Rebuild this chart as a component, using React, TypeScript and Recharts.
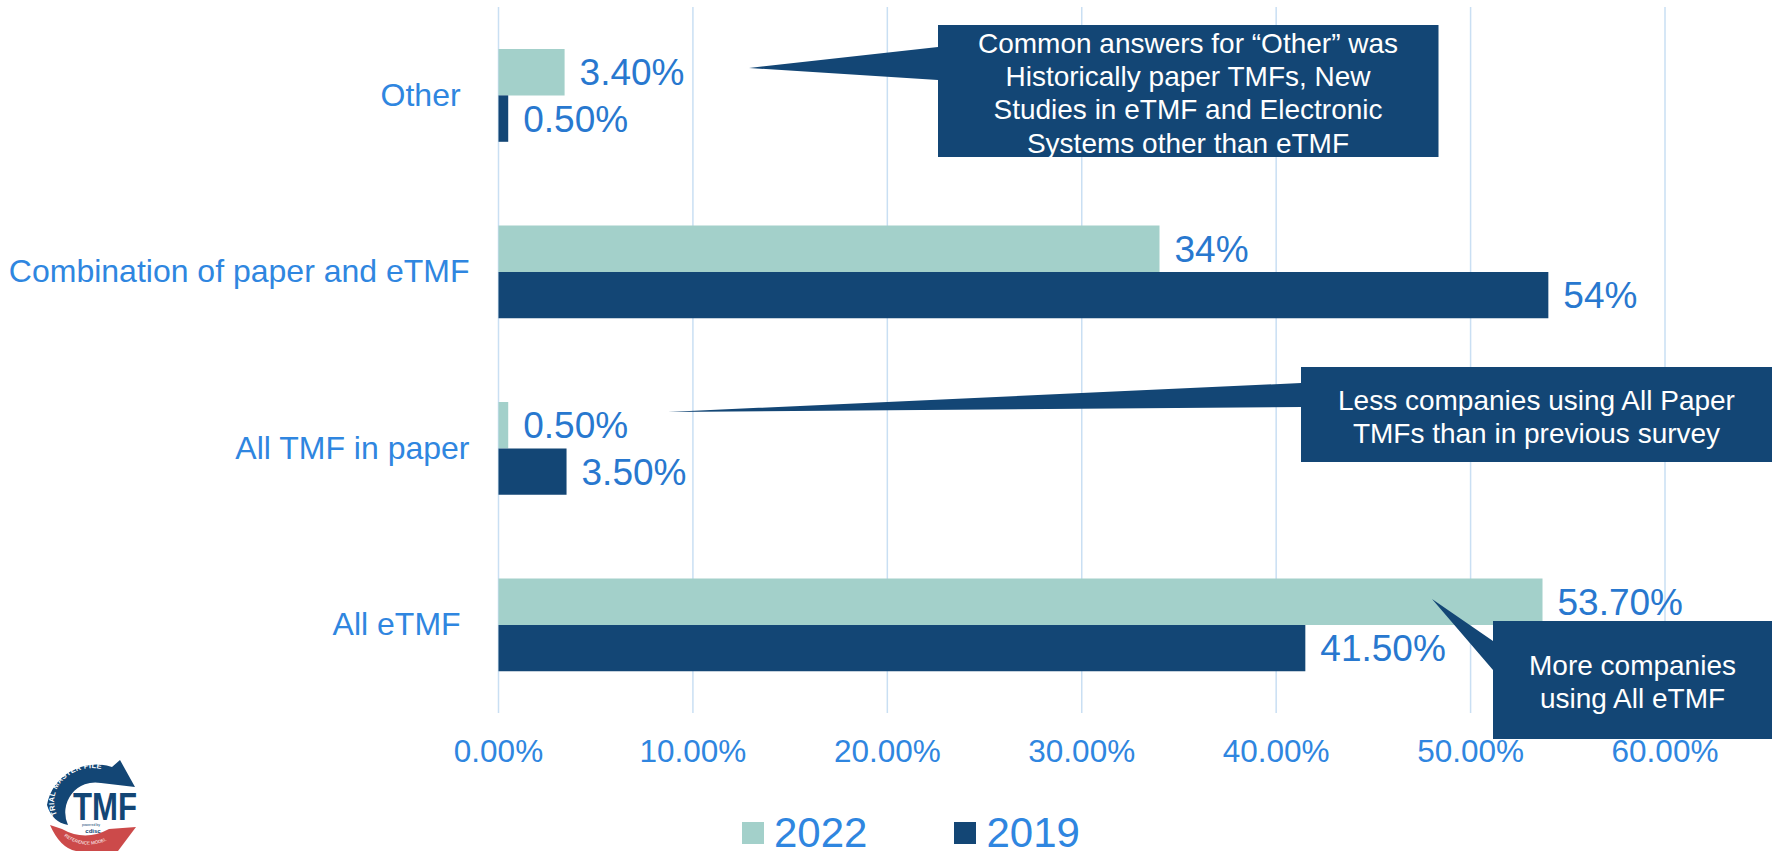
import { Bar, BarChart, CartesianGrid, LabelList, Legend, XAxis, YAxis } from 'recharts';

const FONT = '"Liberation Sans", Arial, sans-serif';
const NAVY = '#134675';
const TEAL = '#A3D0CA';
const TICK_BLUE = '#2F86E0';
const LABEL_BLUE = '#2878CF';
const GRID = '#C9DFF3';

// trailing nbsp: the source labels have a trailing space too
const categories = ['Other\u00A0', 'Combination of paper and eTMF', 'All TMF in paper', 'All eTMF\u00A0'];
const values2022 = [3.4, 34, 0.5, 53.7];
const values2019 = [0.5, 54, 3.5, 41.5];
const labels2022 = ['3.40%', '34%', '0.50%', '53.70%'];
const labels2019 = ['0.50%', '54%', '3.50%', '41.50%'];
const xTicks = [0, 10, 20, 30, 40, 50, 60];

const data = categories.map((name, i) => ({
  name,
  y2022: values2022[i],
  y2019: values2019[i],
  label2022: labels2022[i],
  label2019: labels2019[i],
}));

const callouts = [
  {
    shape: 'M938 25H1438.5V157H938V80L749 68L938 47Z',
    cx: 1188,
    lines: [
      { y: 43, text: 'Common answers for “Other” was' },
      { y: 76, text: 'Historically paper TMFs, New' },
      { y: 109.5, text: 'Studies in eTMF and Electronic' },
      { y: 143, text: 'Systems other than eTMF' },
    ],
  },
  {
    shape: 'M1301 367H1772V462H1301V407L668 412L1301 383Z',
    cx: 1536.5,
    lines: [
      { y: 400.5, text: 'Less companies using All Paper' },
      { y: 433.5, text: 'TMFs than in previous survey' },
    ],
  },
  {
    shape: 'M1493 621H1772V739H1493V670L1432 599L1493 641Z',
    cx: 1632.5,
    lines: [
      { y: 665, text: 'More companies' },
      { y: 698.5, text: 'using All eTMF' },
    ],
  },
];

function ChartLegend({ payload }: { payload?: { value: string; color: string }[] }) {
  return (
    <div style={{ display: 'flex', fontFamily: FONT, fontSize: 42, lineHeight: '48px', color: TICK_BLUE }}>
      {(payload ?? []).map((p) => (
        <div key={p.value} style={{ display: 'flex', alignItems: 'center', marginRight: 87 }}>
          <span style={{ width: 22, height: 22, marginRight: 10, background: p.color }} />
          <span>{p.value}</span>
        </div>
      ))}
    </div>
  );
}

function Logo() {
  return (
    <g fontFamily={FONT}>
      <path d="M47 805A50 48 0 0 1 112 767L120 760L135 787L101 783A30 30 0 0 0 68 825Q52 822 47 805Z" fill={NAVY} />
      <path d="M50 825Q60 848 76 851H118L136 827L109 829Q85 842 62 829Z" fill="#CC4A4A" />
      <defs>
        <path id="logo-top" d="M57 815A38 34 0 0 1 125 785" />
        <path id="logo-bottom" d="M64 836Q86 852 112 838" />
      </defs>
      <text fontSize={7.5} fontWeight={700} fill="#fff" letterSpacing={0.3}>
        <textPath href="#logo-top">TRIAL MASTER FILE</textPath>
      </text>
      <text fontSize={4.5} fill="#fff">
        <textPath href="#logo-bottom">REFERENCE MODEL</textPath>
      </text>
      <text x={73} y={820} fontSize={38} fontWeight={700} fill={NAVY} stroke="#fff" strokeWidth={0.5} paintOrder="stroke" textLength={64} lengthAdjust="spacingAndGlyphs">
        TMF
      </text>
      <text x={91} y={826} fontSize={3.5} fill={NAVY} textAnchor="middle">powered by</text>
      <text x={93} y={833} fontSize={6} fontWeight={700} fill={NAVY} textAnchor="middle">cdisc</text>
    </g>
  );
}

export default function App() {
  const labelStyle = { fontSize: 37, fontFamily: FONT, fill: LABEL_BLUE };
  return (
    <div style={{ position: 'absolute', left: 0, top: 0, width: 1772, height: 851, overflow: 'hidden', background: '#fff' }}>
      <BarChart
        width={1772}
        height={851}
        data={data}
        layout="vertical"
        barSize={46.4}
        barGap={0}
        margin={{ top: 7, right: 107, bottom: 78, left: 0 }}
      >
        <CartesianGrid horizontal={false} stroke={GRID} strokeWidth={1.5} />
        <XAxis
          type="number"
          domain={[0, 60]}
          ticks={xTicks}
          height={60}
          axisLine={false}
          tickLine={false}
          tickMargin={21}
          interval={0}
          tick={{ fontSize: 31.5, fontFamily: FONT, fill: TICK_BLUE }}
          tickFormatter={(v: number) => `${v.toFixed(2)}%`}
        />
        <YAxis
          type="category"
          dataKey="name"
          width={498.5}
          axisLine={false}
          tickLine={false}
          tickMargin={23}
          interval={0}
          tick={{ fontSize: 32, fontFamily: FONT, fill: TICK_BLUE, dy: -1 }}
        />
        <Legend
          layout="horizontal"
          verticalAlign="middle"
          align="center"
          itemSorter={null}
          content={<ChartLegend />}
          wrapperStyle={{ left: 742, top: 809, width: 'auto' }}
        />
        <Bar dataKey="y2022" name="2022" fill={TEAL} isAnimationActive={false}>
          <LabelList dataKey="label2022" position="right" offset={15} style={labelStyle} />
        </Bar>
        <Bar dataKey="y2019" name="2019" fill={NAVY} isAnimationActive={false}>
          <LabelList dataKey="label2019" position="right" offset={15} style={labelStyle} />
        </Bar>
      </BarChart>
      <svg width={1772} height={851} style={{ position: 'absolute', left: 0, top: 0, pointerEvents: 'none' }}>
        {callouts.map((c) => (
          <g key={c.cx}>
            <path d={c.shape} fill={NAVY} />
            {c.lines.map((l) => (
              <text
                key={l.text}
                x={c.cx}
                y={l.y}
                dy="0.35em"
                textAnchor="middle"
                fontFamily={FONT}
                fontSize={28}
                fill="#fff"
              >
                {l.text}
              </text>
            ))}
          </g>
        ))}
        <Logo />
      </svg>
    </div>
  );
}
